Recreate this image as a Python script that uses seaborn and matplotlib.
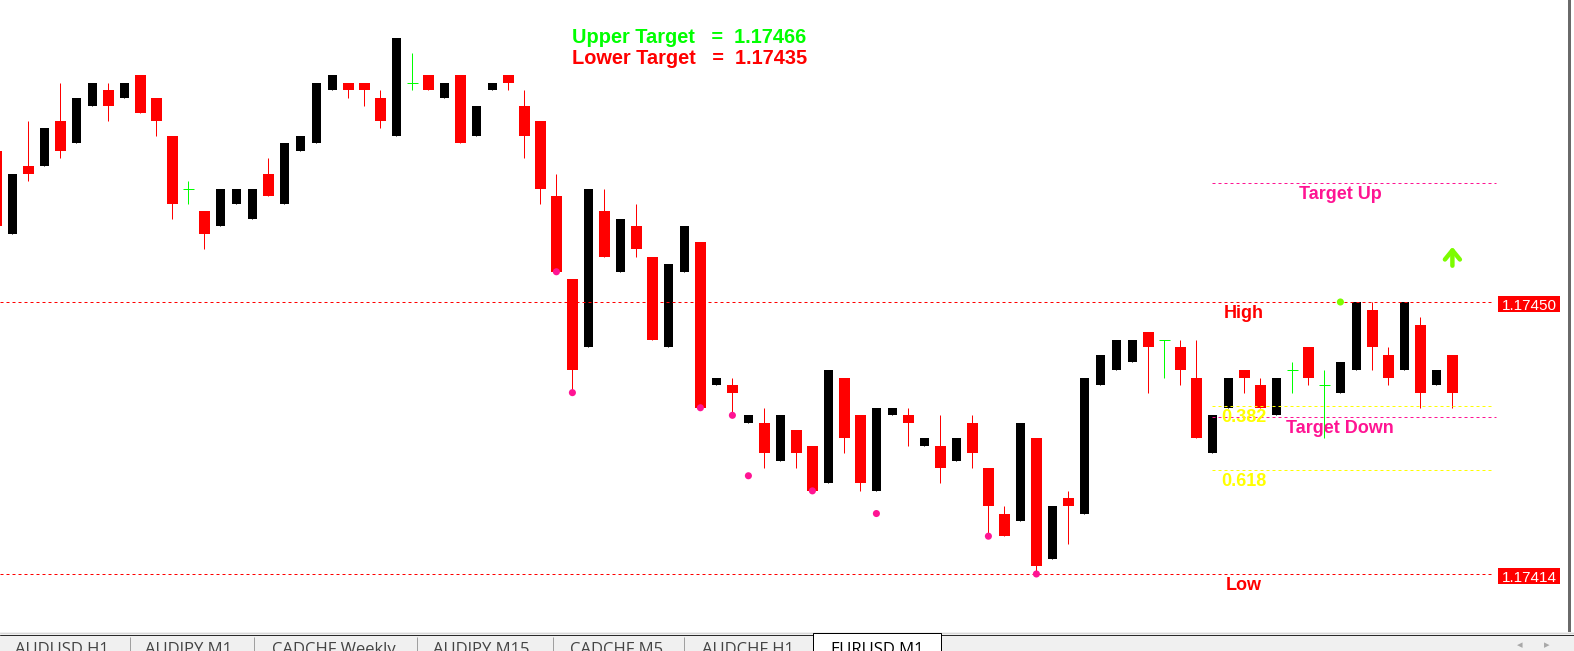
import numpy as np
import pandas as pd
import matplotlib
matplotlib.use("Agg")
import matplotlib.pyplot as plt
import seaborn as sns
from matplotlib.patches import Rectangle

# ---------------- data (prices in points above BASE) ----------------
BASE = 1.17400
POINT = 0.00001
FIRST_INDEX = -1

opens = [70, 59, 68, 68, 74, 71, 76, 78, 77, 80, 77, 72, 65, 62, 60, 63, 61, 67, 63, 70,
         71, 78, 79, 79, 77, 72, 79, 80, 77, 80, 72, 78, 80, 76, 74, 64, 53, 44, 62, 54,
         60, 56, 44, 54, 58, 39, 39, 34, 34, 29, 33, 31, 26, 40, 35, 25, 35, 35, 31, 31,
         29, 34, 28, 22, 21, 32, 16, 24, 22, 39, 41, 42, 46, 45, 44, 40, 30, 36, 41, 39,
         35, 41, 44, 39, 38, 41, 49, 43, 41, 47, 39, 43]
highs = [70, 67, 74, 73, 79, 77, 79, 79, 79, 80, 77, 72, 66, 62, 65, 65, 65, 69, 71, 72,
         79, 80, 79, 79, 78, 85, 83, 80, 79, 80, 76, 79, 80, 78, 74, 67, 53, 65, 65, 61,
         63, 56, 55, 60, 58, 40, 40, 35, 36, 35, 33, 31, 41, 40, 35, 36, 36, 36, 32, 35,
         32, 35, 28, 23, 34, 32, 23, 25, 40, 43, 45, 45, 46, 45, 45, 45, 35, 40, 41, 40,
         40, 42, 44, 41, 42, 50, 50, 44, 50, 48, 41, 43]
lows = [60, 59, 66, 68, 69, 71, 76, 74, 77, 75, 72, 61, 63, 57, 60, 63, 61, 64, 63, 70,
        71, 78, 77, 76, 73, 72, 78, 78, 77, 71, 72, 78, 78, 69, 63, 54, 38, 44, 56, 54,
        56, 45, 44, 54, 36, 39, 35, 34, 28, 29, 28, 25, 26, 30, 25, 25, 35, 31, 31, 26,
        29, 28, 19, 19, 21, 14, 16, 18, 22, 39, 41, 42, 38, 40, 39, 32, 30, 36, 38, 36,
        35, 38, 39, 32, 38, 41, 41, 39, 41, 36, 39, 36]
closes = [60, 67, 67, 73, 70, 77, 79, 76, 79, 75, 74, 63, 65, 59, 65, 65, 65, 64, 71, 72,
          79, 80, 78, 78, 74, 85, 79, 78, 79, 71, 76, 79, 79, 72, 65, 54, 41, 65, 56, 61,
          57, 45, 55, 60, 36, 40, 38, 35, 30, 35, 30, 25, 41, 32, 26, 36, 36, 34, 32, 28,
          32, 30, 23, 19, 34, 15, 23, 23, 40, 43, 45, 45, 44, 45, 41, 32, 35, 40, 40, 36,
          40, 41, 40, 39, 42, 50, 44, 40, 50, 38, 41, 38]

pink_dot_index = [34, 35, 43, 45, 46, 50, 54, 61, 64]
pink_dot_points = [54, 38, 36, 35, 27, 25, 22, 19, 14]
green_dot_index = [83]
green_dot_points = [50]
arrow_index = 90
arrow_points = [54.8, 57.3]

high_level = 1.17450
low_level = 1.17414
upper_target = 1.174657
lower_target = 1.174348
fib_ratios = [0.382, 0.618]

tab_names = ["AUDUSD,H1", "AUDJPY,M1", "CADCHF,Weekly", "AUDJPY,M15",
             "CADCHF,M5", "AUDCHF,H1", "EURUSD,M1"]
active_tab = "EURUSD,M1"

# ---------------- colours ----------------
RED = "#FF0000"
BLACK = "#000000"
LIME = "#00FF00"
PINK = "#FF1493"
YELLOW = "#FFFF00"
LAWN = "#7CFC00"

# ---------------- build frame ----------------
n = len(opens)
df = pd.DataFrame({
    "idx": np.arange(FIRST_INDEX, FIRST_INDEX + n),
    "open": BASE + np.array(opens) * POINT,
    "high": BASE + np.array(highs) * POINT,
    "low": BASE + np.array(lows) * POINT,
    "close": BASE + np.array(closes) * POINT,
})
o_pts = np.array(opens)
c_pts = np.array(closes)
bull = df[c_pts > o_pts]
bear = df[c_pts < o_pts]
doji = df[c_pts == o_pts]

sns.set_theme(style="white")
plt.rcParams["font.family"] = ["Liberation Sans", "DejaVu Sans"]

W, H = 1574, 651
fig = plt.figure(figsize=(W / 100, H / 100), dpi=100)
fig.patch.set_facecolor("white")

CHART_W, CHART_H = 1568, 632
ax = fig.add_axes([0, (H - CHART_H) / H, CHART_W / W, CHART_H / H])
ax.set_facecolor("white")
for s in ax.spines.values():
    s.set_visible(False)
ax.set_xticks([])
ax.set_yticks([])
ax.set_xlim(-0.775, 97.225)
ax.set_ylim(1.1740632, 1.1748997)

LW = 0.72  # 1 px

# bodies
ax.bar(bull["idx"], bull["close"] - bull["open"], bottom=bull["open"],
       width=0.58, color=BLACK, linewidth=0, zorder=3)
ax.vlines(bull["idx"], bull["low"], bull["high"], color=BLACK, lw=LW, zorder=2)
ax.bar(bear["idx"], bear["open"] - bear["close"], bottom=bear["close"],
       width=0.69, color=RED, linewidth=0, zorder=3)
ax.vlines(bear["idx"], bear["low"], bear["high"], color=RED, lw=LW, zorder=2)
ax.vlines(doji["idx"], doji["low"], doji["high"], color=LIME, lw=LW, zorder=3)
ax.hlines(doji["open"], doji["idx"] - 0.34, doji["idx"] + 0.34, color=LIME, lw=LW, zorder=3)

# dots
pink_df = pd.DataFrame({"x": pink_dot_index,
                        "y": BASE + np.array(pink_dot_points) * POINT})
sns.scatterplot(data=pink_df, x="x", y="y", ax=ax, color=PINK, s=26,
                edgecolor="none", legend=False, zorder=6)
green_df = pd.DataFrame({"x": green_dot_index,
                         "y": BASE + np.array(green_dot_points) * POINT})
sns.scatterplot(data=green_df, x="x", y="y", ax=ax, color=LAWN, s=26,
                edgecolor="none", legend=False, zorder=6)
ax.set_xlabel("")
ax.set_ylabel("")

# arrow
ax.annotate("", xy=(arrow_index, BASE + arrow_points[1] * POINT),
            xytext=(arrow_index, BASE + arrow_points[0] * POINT),
            arrowprops=dict(arrowstyle="->,head_length=0.55,head_width=0.45",
                            color=LAWN, lw=3.2, mutation_scale=12,
                            shrinkA=0, shrinkB=0), zorder=6)

yx = ax.get_yaxis_transform()
DASH = (0, (3, 3))

# High / Low lines
for lvl in (high_level, low_level):
    ax.axhline(lvl, xmin=0, xmax=1493 / CHART_W, color=RED, lw=LW, ls=DASH, zorder=4)
    ax.add_patch(Rectangle((1498 / CHART_W, lvl - 10.5 / 7.556 * POINT), 62 / CHART_W,
                           16.5 / 7.556 * POINT, transform=yx, facecolor=RED,
                           edgecolor="none", zorder=7))
    ax.text(1529 / CHART_W, lvl - 8 / 7.556 * POINT, f"{lvl:.5f}", transform=yx,
            ha="center", va="baseline", color="white", fontsize=11, zorder=8)

# fib and target lines
fib_levels = [high_level - r * (high_level - low_level) for r in fib_ratios]
for r, lvl in zip(fib_ratios, fib_levels):
    ax.axhline(lvl, xmin=1212 / CHART_W, xmax=1493 / CHART_W, color=YELLOW,
               lw=LW, ls=DASH, zorder=4)
for lvl in (upper_target, lower_target):
    ax.axhline(lvl, xmin=1212 / CHART_W, xmax=1496 / CHART_W, color=PINK,
               lw=LW, ls=DASH, zorder=4)


def label(xpx, lvl, txt, color):
    ax.annotate(txt, xy=(xpx / CHART_W, lvl), xycoords=yx, xytext=(0, -2.2),
                textcoords="offset points", ha="center", va="top", color=color,
                fontsize=13, fontweight="bold", zorder=8)


label(1244, high_level, "High", RED)
label(1244, low_level, "Low", RED)
for r, lvl in zip(fib_ratios, fib_levels):
    label(1244, lvl, f"{r:.3f}", YELLOW)
label(1340, upper_target, "Target Up", PINK)
label(1340, lower_target, "Target Down", PINK)

# header texts
ax.text(572 / CHART_W, 1 - 43.3 / CHART_H, f"Upper Target   =  {upper_target:.5f}",
        transform=ax.transAxes, ha="left", va="baseline", color=LIME,
        fontsize=14.4, fontweight="bold", zorder=8)
ax.text(572 / CHART_W, 1 - 64 / CHART_H, f"Lower Target   =  {lower_target:.5f}",
        transform=ax.transAxes, ha="left", va="baseline", color=RED,
        fontsize=14.4, fontweight="bold", zorder=8)

# right border of chart
fig.patches.append(Rectangle((1568 / W, (H - CHART_H) / H), 3 / W, CHART_H / H,
                             transform=fig.transFigure, facecolor="#6a6a6a",
                             edgecolor="none", zorder=10))

# ---------------- tab strip ----------------
tab = fig.add_axes([0, 0, 1, (H - CHART_H) / H])
tab.set_xlim(0, W)
tab.set_ylim(H, CHART_H)
tab.axis("off")
tab.add_patch(Rectangle((0, 632), W, 19, facecolor="#f0f0f0", edgecolor="none"))
tab.axhline(632.5, color="#d8d8d8", lw=LW)
tab.axhline(634.5, color="#2a2a2a", lw=LW)
tab_left = [15, 145, 272, 433, 570, 702, 830]
seps = [130, 254, 417, 553, 684]
for sx in seps:
    tab.vlines(sx, 637, 651, color="#a0a0a0", lw=LW)
tab.add_patch(Rectangle((813, 633), 128, 20, facecolor="white", edgecolor="#000000",
                        lw=LW, zorder=3))
for name, tx in zip(tab_names, tab_left):
    tab.text(tx, 654, name, ha="left", va="baseline",
             color="#000000" if name == active_tab else "#444444",
             fontsize=12, family=["Open Sans", "DejaVu Sans"], zorder=4)
tab.text(1520, 645, "◂", color="#a8a8a8", fontsize=8, ha="center", va="center",
         family="DejaVu Sans")
tab.text(1547, 645, "▸", color="#a8a8a8", fontsize=8, ha="center", va="center",
         family="DejaVu Sans")

fig.savefig("out.png", dpi=100, facecolor="white")
